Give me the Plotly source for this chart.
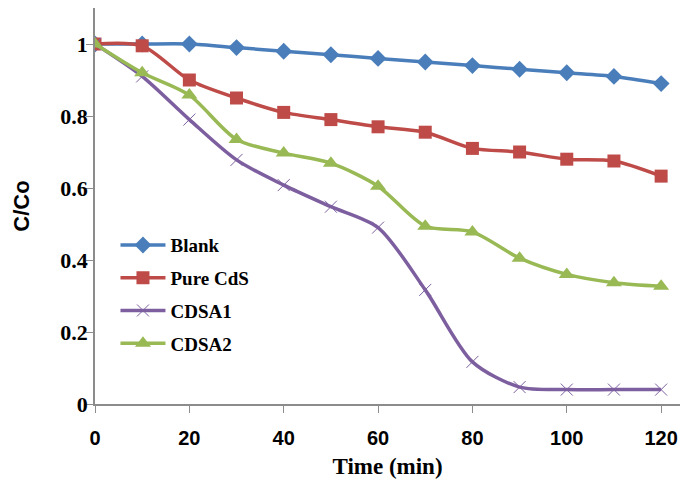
import plotly.graph_objects as go

time_min = [0, 10, 20, 30, 40, 50, 60, 70, 80, 90, 100, 110, 120]
blank = [1.0, 1.0, 1.0, 0.99, 0.98, 0.97, 0.96, 0.95, 0.94, 0.93, 0.92, 0.91, 0.89]
pure_cds = [1.0, 0.995, 0.90, 0.85, 0.81, 0.79, 0.77, 0.755, 0.71, 0.70, 0.68, 0.675, 0.633]
cdsa1 = [1.0, 0.91, 0.79, 0.678, 0.608, 0.548, 0.49, 0.317, 0.117, 0.047, 0.04, 0.04, 0.04]
cdsa2 = [1.0, 0.92, 0.858, 0.735, 0.697, 0.669, 0.605, 0.494, 0.478, 0.405, 0.36, 0.337, 0.327]

series = [
    ("Blank", blank, "#4a7ebb", "diamond", 13, 0),
    ("Pure CdS", pure_cds, "#be4b48", "square", 13, 0),
    ("CDSA1", cdsa1, "#7d5fa0", "x-thin-open", 12, 1),
    ("CDSA2", cdsa2, "#98b954", "triangle-up", 14, 0),
]

fig = go.Figure()
for i, (name, vals, color, sym, size, lw) in enumerate(series):
    fig.add_trace(go.Scatter(
        x=time_min, y=vals, name=name, mode="lines+markers",
        line=dict(color=color, width=3.5, shape="spline", smoothing=0.8),
        marker=dict(symbol=sym, size=size, color=color,
                    line=dict(color=color, width=lw)),
        legendgroup=f"g{i}",
    ))

fig.update_layout(
    width=680, height=481,
    margin=dict(l=95, r=0, t=8, b=77),
    paper_bgcolor="white", plot_bgcolor="white",
    showlegend=True,
    legend=dict(x=0.035, y=0.449, xanchor="left", yanchor="top",
                font=dict(family="Liberation Serif", size=19, color="black", weight="bold"),
                tracegroupgap=5, itemwidth=45, bgcolor="rgba(0,0,0,0)"),
    xaxis=dict(range=[0, 124], tickmode="array", tickvals=[0, 20, 40, 60, 80, 100, 120],
               showgrid=False, zeroline=False, showline=True, linecolor="#8c8c8c", linewidth=1.5,
               ticks="outside", ticklen=7, tickcolor="#8c8c8c", ticklabelstandoff=8,
               tickfont=dict(family="Liberation Sans", size=20, color="black", weight="bold"),
               title=dict(text="Time (min)", standoff=10,
                          font=dict(family="Liberation Serif", size=23, color="black", weight="bold"))),
    yaxis=dict(range=[0, 1.1], tickmode="array", tickvals=[0, 0.2, 0.4, 0.6, 0.8, 1.0],
               ticktext=["0", "0.2", "0.4", "0.6", "0.8", "1"],
               showgrid=False, zeroline=False, showline=True, linecolor="#8c8c8c", linewidth=1.5,
               ticks="outside", ticklen=7, tickcolor="#8c8c8c", ticklabelstandoff=-6,
               tickfont=dict(family="Liberation Serif", size=22, color="black", weight="bold"),
               title=dict(text="C/Co", standoff=25,
                          font=dict(family="Liberation Sans", size=22, color="black", weight="bold"))),
)

fig.write_html("out.html")
